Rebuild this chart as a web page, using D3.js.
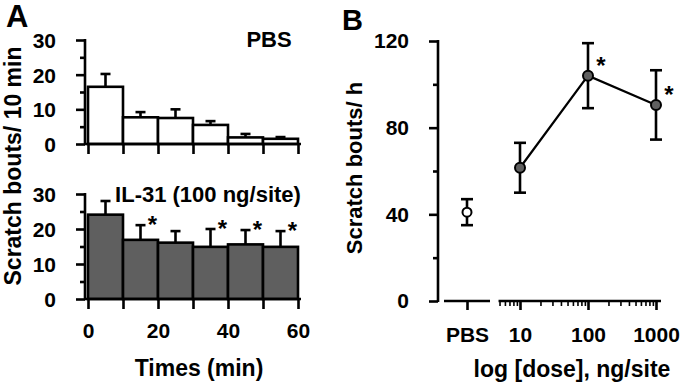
<!DOCTYPE html>
<html lang="en">
<head>
<meta charset="UTF-8">
<title>Scratch bouts</title>
<script src="https://d3js.org/d3.v7.min.js"></script>
<style>
    body { margin: 0; background: #fff; }
    svg { font-family: "Liberation Sans", Arial, sans-serif; font-weight: bold; }
    .tick text { font-size: 21px; font-weight: bold; fill: #000; }
    .lbl { font-size: 22px; font-weight: bold; fill: #000; }
</style>
</head>
<body>
<div id="chart"></div>
<script>
// panel A: time course, 10 min bins
const timeBins = [0, 10, 20, 30, 40, 50];
const pbsMean = [16.5, 7.7, 7.5, 5.5, 1.9, 1.5];
const pbsSem  = [3.7, 1.5, 2.5, 1.1, 1.0, 0.5];
const il31Mean = [24.1, 16.9, 16.1, 14.9, 15.6, 14.9];
const il31Sem  = [3.9, 4.2, 3.3, 5.1, 4.1, 4.5];
const il31Sig  = [false, true, false, true, true, true];
const timeTicks = [0, 20, 40, 60];
const countTicks = [0, 10, 20, 30];

// panel B: dose response
const pbsPoint = { mean: 41, sem: 6 };
const doses = [10, 100, 1000];
const doseMean = [61.5, 104, 90.5];
const doseSem  = [11.5, 15, 16];
const doseSig  = [false, true, true];
const boutTicks = [0, 40, 80, 120];

const svg = d3.select("#chart").append("svg")
    .attr("width", 690).attr("height", 389);

const SW = 2.6;

function styleAxis(g) {
    g.selectAll("path, line").attr("stroke", "#000").attr("stroke-width", SW);
}

// ---------- panel A ----------
const x = d3.scaleLinear().domain([0, 60]).range([88, 298]);

function barPanel(mean, sem, sig, yRange, showLabels, title, titleX, titleY) {
    const y = d3.scaleLinear().domain([0, 30]).range(yRange);
    const g = svg.append("g");

    // error bars (upper only)
    mean.forEach((m, i) => {
        const cx = x(timeBins[i] + 5);
        g.append("line").attr("x1", cx).attr("x2", cx)
            .attr("y1", y(m)).attr("y2", y(m + sem[i]))
            .attr("stroke", "#000").attr("stroke-width", SW);
        g.append("line").attr("x1", cx - 5).attr("x2", cx + 5)
            .attr("y1", y(m + sem[i])).attr("y2", y(m + sem[i]))
            .attr("stroke", "#000").attr("stroke-width", SW);
        if (sig && sig[i]) {
            g.append("text").attr("class", "lbl")
                .attr("x", cx + 12).attr("y", y(m + sem[i]) + 8)
                .attr("text-anchor", "middle").style("font-size", "24px")
                .text("*");
        }
    });

    g.selectAll("rect").data(mean).enter().append("rect")
        .attr("x", (d, i) => x(timeBins[i]))
        .attr("width", x(10) - x(0))
        .attr("y", d => y(d))
        .attr("height", d => y(0) - y(d))
        .attr("fill", showLabels ? "#5f5f5f" : "#fff")
        .attr("stroke", "#000").attr("stroke-width", SW);

    // y axis
    const ya = g.append("g").attr("transform", "translate(85,0)")
        .call(d3.axisLeft(y).tickValues(countTicks).tickSize(9).tickSizeOuter(0).tickPadding(20));
    ya.select(".domain").attr("d", `M0,${y(0) + 1}V${y(30) - 1}`);
    ya.selectAll(".tick text").attr("dy", "0.36em");
    styleAxis(ya);
    g.append("g").attr("transform", "translate(85,0)")
        .call(d3.axisLeft(y).tickValues([5, 15, 25]).tickSize(5).tickFormat(""))
        .call(a => a.select(".domain").remove())
        .call(styleAxis);

    // x axis
    const xa = g.append("g").attr("transform", `translate(0,${y(0)})`)
        .call(d3.axisBottom(x).ticks(7).tickSize(10).tickSizeOuter(0).tickPadding(14)
            .tickFormat(d => (showLabels && timeTicks.includes(d)) ? d : ""));
    xa.select(".domain").attr("d", `M84,0H301`);
    styleAxis(xa);

    g.append("text").attr("class", "lbl")
        .attr("x", titleX).attr("y", titleY).attr("text-anchor", "middle")
        .text(title);
}

barPanel(pbsMean, pbsSem, null, [144, 40], false, "PBS", 269, 47);
barPanel(il31Mean, il31Sem, il31Sig, [299, 194], true, "IL-31 (100 ng/site)", 208, 202);

svg.append("text").attr("class", "lbl")
    .attr("x", 199).attr("y", 376).attr("text-anchor", "middle")
    .style("font-size", "23px").text("Times (min)");
svg.append("text").attr("class", "lbl")
    .attr("transform", "translate(21,166) rotate(-90)")
    .attr("text-anchor", "middle").style("font-size", "23px")
    .text("Scratch bouts/ 10 min");
svg.append("text").attr("class", "lbl")
    .attr("x", 6).attr("y", 27).style("font-size", "31px").text("A");

// ---------- panel B ----------
const yb = d3.scaleLinear().domain([0, 120]).range([301, 41]);
const xLog = d3.scaleLog().domain([10, 1000]).range([520, 656]);
const xPbs = d3.scalePoint().domain(["PBS"]).range([467, 467]);

const gb = svg.append("g");

const yba = gb.append("g").attr("transform", "translate(438,0)")
    .call(d3.axisLeft(yb).tickValues(boutTicks).tickSize(9).tickSizeOuter(0).tickPadding(20));
yba.select(".domain").attr("d", `M0,${yb(0) + 1}V${yb(120) - 1}`);
styleAxis(yba);
gb.append("g").attr("transform", "translate(438,0)")
    .call(d3.axisLeft(yb).tickValues([20, 60, 100]).tickSize(5).tickFormat(""))
    .call(a => a.select(".domain").remove())
    .call(styleAxis);

// PBS segment of the broken x axis
const pa = gb.append("g").attr("transform", `translate(0,${yb(0)})`)
    .call(d3.axisBottom(xPbs).tickSize(9).tickSizeOuter(0).tickPadding(17));
pa.select(".domain").attr("d", "M444,0H490");
styleAxis(pa);

// log segment
const minorTicks = [];
[1, 10, 100].forEach(dec => {
    for (let k = 2; k <= 9; k++) if (dec * k >= 5) minorTicks.push(dec * k);
});
const la = gb.append("g").attr("transform", `translate(0,${yb(0)})`)
    .call(d3.axisBottom(xLog).tickValues(doses).tickSize(9).tickSizeOuter(0).tickPadding(17)
        .tickFormat(d3.format("d")));
la.select(".domain").attr("d", `M${xLog(5) - 1},0H${xLog(1000) + 5}`);
styleAxis(la);
gb.append("g").attr("transform", `translate(0,${yb(0)})`)
    .call(d3.axisBottom(xLog).tickValues(minorTicks).tickSize(5).tickFormat(""))
    .call(a => a.select(".domain").remove())
    .call(a => a.selectAll("line").attr("stroke", "#000").attr("stroke-width", 1.6));

function errBar(cx, m, s) {
    gb.append("line").attr("x1", cx).attr("x2", cx)
        .attr("y1", yb(m - s)).attr("y2", yb(m + s))
        .attr("stroke", "#000").attr("stroke-width", SW);
    [m - s, m + s].forEach(v => {
        gb.append("line").attr("x1", cx - 6).attr("x2", cx + 6)
            .attr("y1", yb(v)).attr("y2", yb(v))
            .attr("stroke", "#000").attr("stroke-width", SW);
    });
}

errBar(xPbs("PBS"), pbsPoint.mean, pbsPoint.sem);
doses.forEach((d, i) => errBar(xLog(d), doseMean[i], doseSem[i]));

gb.append("path")
    .datum(doses.map((d, i) => [d, doseMean[i]]))
    .attr("fill", "none").attr("stroke", "#000").attr("stroke-width", 2.2)
    .attr("d", d3.line().x(d => xLog(d[0])).y(d => yb(d[1])));

gb.append("circle")
    .attr("cx", xPbs("PBS")).attr("cy", yb(pbsPoint.mean)).attr("r", 4.5)
    .attr("fill", "#fff").attr("stroke", "#000").attr("stroke-width", 2);

gb.selectAll(".dose").data(doses).enter().append("circle")
    .attr("cx", d => xLog(d)).attr("cy", (d, i) => yb(doseMean[i])).attr("r", 5)
    .attr("fill", "#5f5f5f").attr("stroke", "#000").attr("stroke-width", 2);

doses.forEach((d, i) => {
    if (!doseSig[i]) return;
    gb.append("text").attr("class", "lbl")
        .attr("x", xLog(d) + 13).attr("y", yb(doseMean[i]) - 2)
        .attr("text-anchor", "middle").style("font-size", "24px").text("*");
});

svg.append("text").attr("class", "lbl")
    .attr("x", 572).attr("y", 377).attr("text-anchor", "middle")
    .style("font-size", "23px").text("log [dose], ng/site");
svg.append("text").attr("class", "lbl")
    .attr("transform", "translate(362,168) rotate(-90)")
    .attr("text-anchor", "middle").style("font-size", "22px")
    .text("Scratch bouts/ h");
svg.append("text").attr("class", "lbl")
    .attr("x", 342).attr("y", 30).style("font-size", "29px").text("B");
</script>
</body>
</html>
